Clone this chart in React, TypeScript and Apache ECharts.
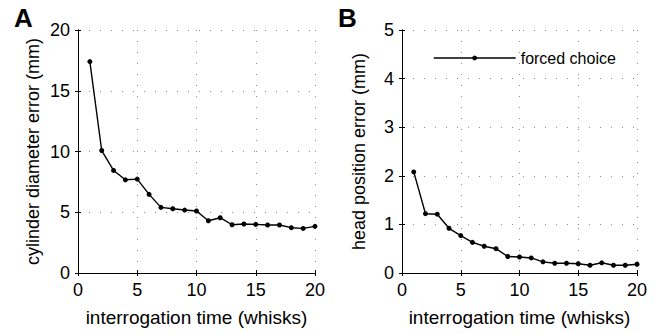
import React, { useEffect, useRef } from "react";
import * as echarts from "echarts";

const times = [1, 2, 3, 4, 5, 6, 7, 8, 9, 10, 11, 12, 13, 14, 15, 16, 17, 18, 19, 20];
const diameterError = [17.4, 10.08, 8.44, 7.67, 7.73, 6.47, 5.4, 5.29, 5.18, 5.1, 4.3, 4.55, 3.97, 4.03, 4.0, 3.95, 3.95, 3.73, 3.67, 3.84];
const headError = [2.08, 1.22, 1.21, 0.92, 0.77, 0.63, 0.55, 0.5, 0.34, 0.33, 0.31, 0.23, 0.2, 0.2, 0.19, 0.16, 0.21, 0.16, 0.16, 0.18];
const seriesName = "forced choice";
const xTitle = "interrogation time (whisks)";
const yTitleA = "cylinder diameter error (mm)";
const yTitleB = "head position error (mm)";

const FONT = "'Liberation Sans', Arial, Helvetica, sans-serif";

export default function App() {
  const ref = useRef<HTMLDivElement>(null);
  useEffect(() => {
    if (!ref.current) return;
    const chart = echarts.init(ref.current, undefined, { renderer: "svg" });
    const splitLine = { show: true, lineStyle: { color: "#8a8a8a", type: [1, 10] as any, width: 1 } };
    const mainX = (gridIndex: number) => ({
      type: "value",
      gridIndex,
      min: 0,
      max: 20,
      interval: 5,
      name: xTitle,
      nameLocation: "middle",
      nameGap: 35,
      nameTextStyle: { fontSize: 19, color: "#000", fontFamily: FONT },
      axisLine: { show: true, lineStyle: { color: "#000", width: 1 } },
      axisTick: { show: true, inside: true, length: 3, lineStyle: { color: "#000" } },
      axisLabel: { fontSize: 18, color: "#000", fontFamily: FONT, margin: 8 },
      splitLine,
    });
    const topX = (gridIndex: number) => ({
      type: "value",
      gridIndex,
      position: "top",
      min: 0,
      max: 20,
      interval: 5,
      axisLine: { show: true, lineStyle: { color: "#000", width: 1 } },
      axisTick: { show: true, inside: true, length: 3, lineStyle: { color: "#000" } },
      axisLabel: { show: false },
      splitLine: { show: false },
    });
    const mainY = (gridIndex: number, max: number, interval: number, name: string, nameGap: number) => ({
      type: "value",
      gridIndex,
      min: 0,
      max,
      interval,
      name,
      nameLocation: "middle",
      nameGap,
      nameTextStyle: { fontSize: 18, color: "#000", fontFamily: FONT },
      axisLine: { show: true, lineStyle: { color: "#000", width: 1 } },
      axisTick: { show: true, inside: true, length: 3, lineStyle: { color: "#000" } },
      axisLabel: { fontSize: 18, color: "#000", fontFamily: FONT, margin: 8 },
      splitLine,
    });
    const rightY = (gridIndex: number, max: number, interval: number) => ({
      type: "value",
      gridIndex,
      position: "right",
      min: 0,
      max,
      interval,
      axisLine: { show: true, lineStyle: { color: "#000", width: 1 } },
      axisTick: { show: true, inside: true, length: 3, lineStyle: { color: "#000" } },
      axisLabel: { show: false },
      splitLine: { show: false },
    });
    const lineSeries = (name: string, values: number[], xi: number, yi: number) => ({
      type: "line",
      name,
      xAxisIndex: xi,
      yAxisIndex: yi,
      data: times.map((t, i) => [t, values[i]]),
      symbol: "circle",
      symbolSize: 5,
      showSymbol: true,
      lineStyle: { color: "#000", width: 1.4 },
      itemStyle: { color: "#000" },
    });
    chart.setOption({
      animation: false,
      backgroundColor: "#fff",
      textStyle: { fontFamily: FONT },
      grid: [
        { left: 78, top: 30, width: 237, height: 243 },
        { left: 402, top: 30, width: 235, height: 243 },
      ],
      xAxis: [mainX(0), mainX(1), topX(0), topX(1)],
      yAxis: [
        mainY(0, 20, 5, yTitleA, 36),
        mainY(1, 5, 1, yTitleB, 34),
        rightY(0, 20, 5),
        rightY(1, 5, 1),
      ],
      legend: {
        data: [seriesName],
        left: 433,
        top: 48,
        padding: 0,
        itemWidth: 82,
        itemHeight: 6,
        textStyle: { fontSize: 16, color: "#000", fontFamily: FONT, lineHeight: 20 },
        lineStyle: { color: "#000", width: 1.4 },
        itemStyle: { color: "#000" },
      },
      series: [
        lineSeries("diameter", diameterError, 0, 0),
        lineSeries(seriesName, headError, 1, 1),
      ],
      graphic: [
        { type: "text", left: 14, top: 5, style: { text: "A", fontSize: 26, fontWeight: "bold", fill: "#000", fontFamily: FONT } },
        { type: "text", left: 338, top: 5, style: { text: "B", fontSize: 26, fontWeight: "bold", fill: "#000", fontFamily: FONT } },
      ],
    });
    return () => chart.dispose();
  }, []);
  return <div ref={ref} style={{ position: "fixed", left: 0, top: 0, width: 665, height: 334 }} />;
}
